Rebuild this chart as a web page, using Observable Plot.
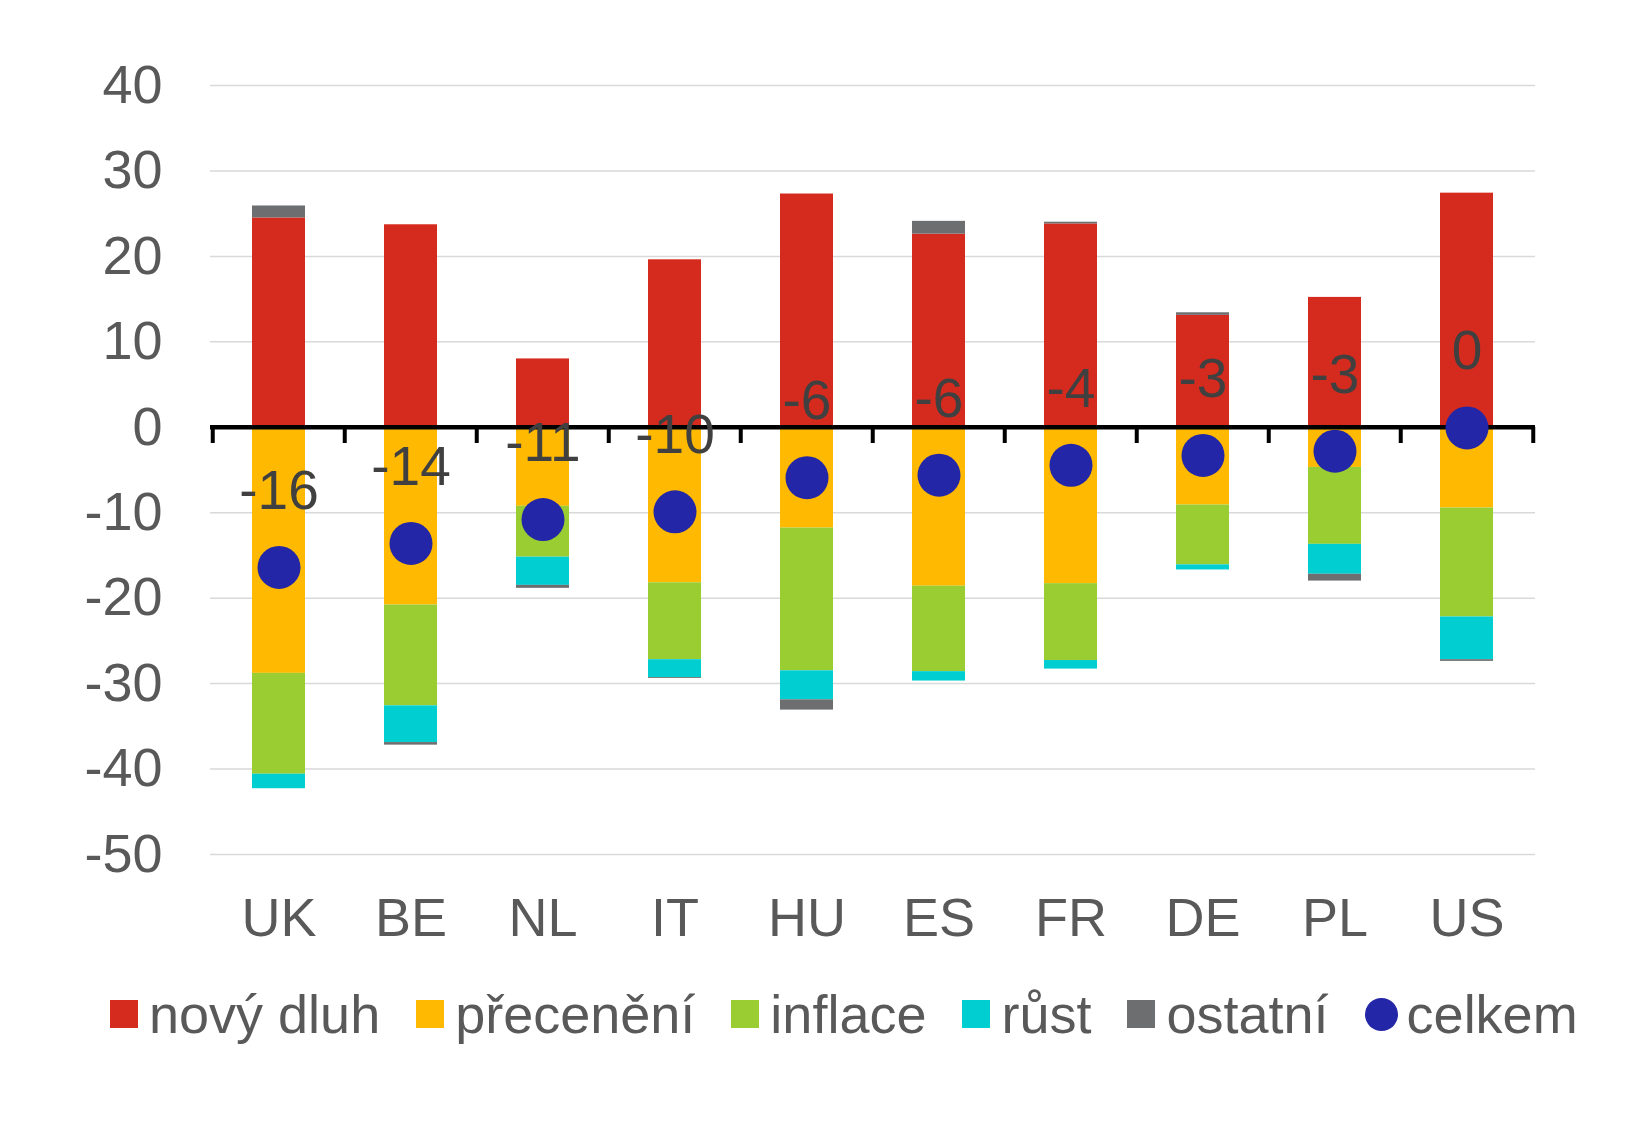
<!DOCTYPE html>
<html>
<head>
<meta charset="utf-8">
<script src="https://cdn.jsdelivr.net/npm/d3@7"></script>
<script src="https://cdn.jsdelivr.net/npm/@observablehq/plot@0.6"></script>
<style>
  body { margin: 0; background: #fff; font-family: "Liberation Sans", Arial, sans-serif; }
  #chart svg { display: block; }
  #legend { display: flex; align-items: center; padding-left: 110px; margin-top: 24px; height: 60px;
            font-size: 54px; color: #595959; font-family: "Liberation Sans", Arial, sans-serif; white-space: nowrap; }
  .item { display: flex; align-items: center; margin-right: 36px; }
  .sw { width: 28px; height: 28px; margin-right: 11px; flex: none; }
  .circ { width: 33px; height: 33px; border-radius: 50%; margin-right: 9px; flex: none; }
</style>
</head>
<body>
<div id="chart"></div>
<div id="legend"></div>
<script>
// ---- data ----
const countries = ["UK", "BE", "NL", "IT", "HU", "ES", "FR", "DE", "PL", "US"];
const novyDluh  = [24.5, 23.7, 8.0, 19.6, 27.3, 22.6, 23.8, 13.1, 15.2, 27.4];
const preceneni = [-28.8, -20.8, -9.25, -18.2, -11.8, -18.6, -18.3, -9.1, -4.7, -9.45];
const inflace   = [-11.8, -11.8, -5.95, -9.0, -16.7, -10.0, -9.0, -7.0, -9.0, -12.75];
const rust      = [-1.7, -4.3, -3.3, -2.1, -3.4, -1.1, -1.0, -0.6, -3.5, -5.0];
const ostatni   = [1.4, -0.3, -0.35, -0.1, -1.2, 1.5, 0.2, 0.3, -0.8, -0.2];
const celkem    = [-16.4, -13.6, -10.8, -9.9, -5.9, -5.6, -4.45, -3.3, -2.8, -0.07];
const seriesNames  = ["nový dluh", "přecenění", "inflace", "růst", "ostatní"];
const seriesColors = ["#D52B1E", "#FFB900", "#9ACD32", "#00CED1", "#6D6E70"];
const totalName = "celkem";
const totalColor = "#2326A6";
const yTicks = [-50, -40, -30, -20, -10, 0, 10, 20, 30, 40];

// ---- build tables ----
const seriesValues = [novyDluh, preceneni, inflace, rust, ostatni];
const rows = [];
seriesNames.forEach((s, i) => countries.forEach((c, j) => rows.push({country: c, series: s, value: seriesValues[i][j]})));
const totals = countries.map((c, j) => ({country: c, value: celkem[j]}));

// ---- layout ----
const W = 1647, H = 960, mL = 210, mR = 112, mT = 85, mB = 106;
const step = (W - mL - mR) / countries.length;
const font = '"Liberation Sans", Arial, sans-serif';

const chart = Plot.plot({
  width: W, height: H,
  marginLeft: mL, marginRight: mR, marginTop: mT, marginBottom: mB,
  style: {fontFamily: font, fontSize: "54px", color: "#595959", background: "#fff"},
  x: {domain: countries, paddingInner: 0.595, paddingOuter: 0.2975, label: null},
  y: {domain: [-50, 40], label: null},
  color: {domain: seriesNames, range: seriesColors},
  marks: [
    Plot.gridY(yTicks.filter(t => t !== 0), {stroke: "#d9d9d9", strokeOpacity: 1, strokeWidth: 1.5}),
    Plot.axisY(yTicks, {tickSize: 0, tickPadding: 48, tickFormat: d => String(d), fontSize: 54, fill: "#595959", label: null}),
    Plot.axisX({tickSize: 0, tickPadding: 43, fontSize: 54, fill: "#595959", label: null}),
    Plot.barY(rows, {x: "country", y: "value", fill: "series"}),
    Plot.ruleY([0], {stroke: "#000", strokeWidth: 4.5}),
    Plot.ruleX(countries, {x: d => d, y1: 0, y2: -1.9, dx: -step / 2, stroke: "#000", strokeWidth: 4}),
    Plot.ruleX(countries.slice(-1), {x: d => d, y1: 0, y2: -1.9, dx: step / 2, stroke: "#000", strokeWidth: 4}),
    Plot.dot(totals, {x: "country", y: "value", r: 21.5, fill: totalColor}),
    Plot.text(totals, {x: "country", y: "value", text: d => String(Math.round(d.value) || 0),
                       dy: -76, fill: "#404040", fontSize: 55, fontFamily: font})
  ]
});
document.getElementById("chart").appendChild(chart);

// ---- legend ----
const legend = document.getElementById("legend");
seriesNames.forEach((s, i) => {
  const it = document.createElement("div");
  it.className = "item";
  it.innerHTML = `<span class="sw" style="background:${seriesColors[i]}"></span><span>${s}</span>`;
  legend.appendChild(it);
});
const tot = document.createElement("div");
tot.className = "item";
tot.innerHTML = `<span class="circ" style="background:${totalColor}"></span><span>${totalName}</span>`;
legend.appendChild(tot);
</script>
</body>
</html>
